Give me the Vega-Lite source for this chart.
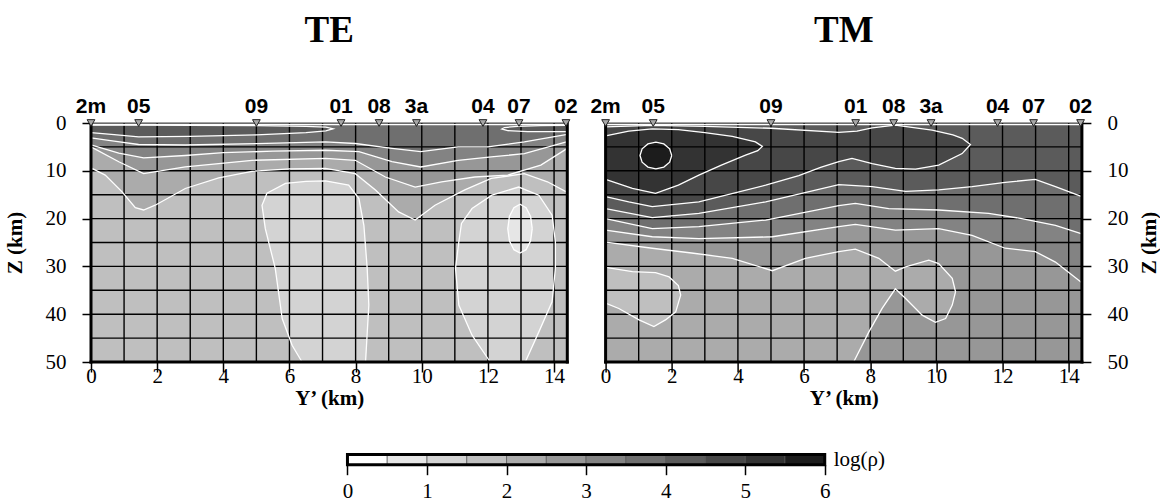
{
"$schema":"https://vega.github.io/schema/vega-lite/v6.json",
"background":"white",
"padding":{"left":4,"top":12,"right":0,"bottom":0},
"autosize":{"type":"pad"},
"config":{
 "view":{"stroke":null},
 "font":"Liberation Serif",
 "axis":{"labelFont":"Liberation Serif","labelFontSize":21,"labelColor":"black","titleFont":"Liberation Serif","titleFontSize":21,"titleFontWeight":"bold","titleColor":"black","domainColor":"black","tickColor":"black","tickWidth":1.5,"labelOverlap":false,"labelFlush":false,"labelBound":false,"grid":false},
 "title":{"font":"Liberation Serif","fontSize":37,"fontWeight":"bold","color":"black"}
},
"datasets":{
"st":[{"n":"2m","x":0},{"n":"05","x":1.44},{"n":"09","x":5.0},{"n":"01","x":7.56},{"n":"08","x":8.71},{"n":"3a","x":9.84},{"n":"04","x":11.85},{"n":"07","x":12.94},{"n":"02","x":14.36}],
"gx":[{"g":1},{"g":2},{"g":3},{"g":4},{"g":5},{"g":6},{"g":7},{"g":8},{"g":9},{"g":10},{"g":11},{"g":12},{"g":13},{"g":14}],
"gz":[{"g":5},{"g":10},{"g":15},{"g":20},{"g":25},{"g":30},{"g":35},{"g":40},{"g":45}],
"fx":[{"g":0},{"g":14.4}],
"fb":[{"g":50}],
"ft":[{"g":0}],
"cb":[{"lo":0,"hi":0.5,"lvl":0.25},{"lo":0.5,"hi":1,"lvl":0.75},{"lo":1,"hi":1.5,"lvl":1.25},{"lo":1.5,"hi":2,"lvl":1.75},{"lo":2,"hi":2.5,"lvl":2.25},{"lo":2.5,"hi":3,"lvl":2.75},{"lo":3,"hi":3.5,"lvl":3.25},{"lo":3.5,"hi":4,"lvl":3.75},{"lo":4,"hi":4.5,"lvl":4.25},{"lo":4.5,"hi":5,"lvl":4.75},{"lo":5,"hi":5.5,"lvl":5.25},{"lo":5.5,"hi":6,"lvl":5.75}],
"te":[
{"id":"bg","i":0,"x":0,"z":50,"lvl":1.75},{"id":"bg","i":1,"x":14.4,"z":50,"lvl":1.75},
{"id":"s","i":0,"x":0,"z":0.35,"lvl":2.75},{"id":"s","i":1,"x":14.4,"z":0.35,"lvl":2.75},
{"id":"e","i":0,"x":0,"z":9.4,"lvl":2.25},{"id":"e","i":1,"x":0.43,"z":10.9,"lvl":2.25},{"id":"e","i":2,"x":0.94,"z":14.4,"lvl":2.25},{"id":"e","i":3,"x":1.34,"z":17.7,"lvl":2.25},{"id":"e","i":4,"x":1.59,"z":18.2,"lvl":2.25},{"id":"e","i":5,"x":1.94,"z":17.2,"lvl":2.25},{"id":"e","i":6,"x":2.85,"z":13.7,"lvl":2.25},{"id":"e","i":7,"x":3.86,"z":11.5,"lvl":2.25},{"id":"e","i":8,"x":4.87,"z":10.1,"lvl":2.25},{"id":"e","i":9,"x":6.0,"z":9.6,"lvl":2.25},{"id":"e","i":10,"x":7.09,"z":9.5,"lvl":2.25},{"id":"e","i":11,"x":7.99,"z":10.6,"lvl":2.25},{"id":"e","i":12,"x":8.6,"z":14.0,"lvl":2.25},{"id":"e","i":13,"x":9.3,"z":18.6,"lvl":2.25},{"id":"e","i":14,"x":9.8,"z":20.3,"lvl":2.25},{"id":"e","i":15,"x":10.4,"z":17.2,"lvl":2.25},{"id":"e","i":16,"x":11.3,"z":14.0,"lvl":2.25},{"id":"e","i":17,"x":12.1,"z":11.6,"lvl":2.25},{"id":"e","i":18,"x":13.1,"z":10.6,"lvl":2.25},{"id":"e","i":19,"x":13.8,"z":12.3,"lvl":2.25},{"id":"e","i":20,"x":14.4,"z":14.5,"lvl":2.25},
{"id":"d","i":0,"x":0,"z":5.0,"lvl":2.75},{"id":"d","i":1,"x":0.84,"z":8.1,"lvl":2.75},{"id":"d","i":2,"x":1.59,"z":10.6,"lvl":2.75},{"id":"d","i":3,"x":2.85,"z":9.2,"lvl":2.75},{"id":"d","i":4,"x":4.87,"z":7.8,"lvl":2.75},{"id":"d","i":5,"x":7.09,"z":7.4,"lvl":2.75},{"id":"d","i":6,"x":7.99,"z":7.8,"lvl":2.75},{"id":"d","i":7,"x":8.9,"z":11.3,"lvl":2.75},{"id":"d","i":8,"x":9.8,"z":13.4,"lvl":2.75},{"id":"d","i":9,"x":10.6,"z":12.3,"lvl":2.75},{"id":"d","i":10,"x":11.6,"z":11.3,"lvl":2.75},{"id":"d","i":11,"x":12.6,"z":10.9,"lvl":2.75},{"id":"d","i":12,"x":13.6,"z":8.8,"lvl":2.75},{"id":"d","i":13,"x":14.4,"z":5.3,"lvl":2.75},
{"id":"c","i":0,"x":0,"z":4.6,"lvl":3.25},{"id":"c","i":1,"x":0.84,"z":6.3,"lvl":3.25},{"id":"c","i":2,"x":1.59,"z":7.3,"lvl":3.25},{"id":"c","i":3,"x":2.85,"z":6.8,"lvl":3.25},{"id":"c","i":4,"x":4.0,"z":6.2,"lvl":3.25},{"id":"c","i":5,"x":5.5,"z":5.9,"lvl":3.25},{"id":"c","i":6,"x":7.09,"z":5.7,"lvl":3.25},{"id":"c","i":7,"x":8.1,"z":6.0,"lvl":3.25},{"id":"c","i":8,"x":9.1,"z":8.1,"lvl":3.25},{"id":"c","i":9,"x":9.97,"z":9.2,"lvl":3.25},{"id":"c","i":10,"x":11.1,"z":7.8,"lvl":3.25},{"id":"c","i":11,"x":12.1,"z":7.1,"lvl":3.25},{"id":"c","i":12,"x":13.1,"z":6.4,"lvl":3.25},{"id":"c","i":13,"x":14.4,"z":3.9,"lvl":3.25},
{"id":"b","i":0,"x":0,"z":3.1,"lvl":3.75},{"id":"b","i":1,"x":0.7,"z":3.8,"lvl":3.75},{"id":"b","i":2,"x":1.44,"z":4.5,"lvl":3.75},{"id":"b","i":3,"x":2.85,"z":4.6,"lvl":3.75},{"id":"b","i":4,"x":5.0,"z":4.3,"lvl":3.75},{"id":"b","i":5,"x":7.09,"z":3.94,"lvl":3.75},{"id":"b","i":6,"x":7.99,"z":4.29,"lvl":3.75},{"id":"b","i":7,"x":9.1,"z":5.3,"lvl":3.75},{"id":"b","i":8,"x":9.97,"z":6.0,"lvl":3.75},{"id":"b","i":9,"x":11.1,"z":5.0,"lvl":3.75},{"id":"b","i":10,"x":12.0,"z":5.0,"lvl":3.75},{"id":"b","i":11,"x":13.1,"z":3.94,"lvl":3.75},{"id":"b","i":12,"x":14.4,"z":2.4,"lvl":3.75},
{"id":"L","i":0,"x":0,"z":0.45,"lvl":4.25},{"id":"L","i":1,"x":1.44,"z":0.45,"lvl":4.25},{"id":"L","i":2,"x":3.0,"z":0.5,"lvl":4.25},{"id":"L","i":3,"x":5.0,"z":0.55,"lvl":4.25},{"id":"L","i":4,"x":6.5,"z":0.7,"lvl":4.25},{"id":"L","i":5,"x":7.1,"z":0.85,"lvl":4.25},{"id":"L","i":6,"x":7.32,"z":1.2,"lvl":4.25},{"id":"L","i":7,"x":7.1,"z":1.65,"lvl":4.25},{"id":"L","i":8,"x":6.5,"z":2.0,"lvl":4.25},{"id":"L","i":9,"x":5.0,"z":2.5,"lvl":4.25},{"id":"L","i":10,"x":3.0,"z":2.8,"lvl":4.25},{"id":"L","i":11,"x":1.44,"z":2.9,"lvl":4.25},{"id":"L","i":12,"x":0.7,"z":2.45,"lvl":4.25},{"id":"L","i":13,"x":0,"z":2.0,"lvl":4.25},
{"id":"R","i":0,"x":14.4,"z":0.5,"lvl":4.25},{"id":"R","i":1,"x":13.6,"z":0.55,"lvl":4.25},{"id":"R","i":2,"x":12.9,"z":0.7,"lvl":4.25},{"id":"R","i":3,"x":12.5,"z":0.95,"lvl":4.25},{"id":"R","i":4,"x":12.42,"z":1.25,"lvl":4.25},{"id":"R","i":5,"x":12.6,"z":1.6,"lvl":4.25},{"id":"R","i":6,"x":13.2,"z":1.8,"lvl":4.25},{"id":"R","i":7,"x":14.4,"z":1.8,"lvl":4.25},
{"id":"C1","i":0,"x":6.38,"z":50,"lvl":1.25},{"id":"C1","i":1,"x":6.08,"z":46.5,"lvl":1.25},{"id":"C1","i":2,"x":5.78,"z":40.9,"lvl":1.25},{"id":"C1","i":3,"x":5.57,"z":30.4,"lvl":1.25},{"id":"C1","i":4,"x":5.27,"z":22.1,"lvl":1.25},{"id":"C1","i":5,"x":5.17,"z":17.2,"lvl":1.25},{"id":"C1","i":6,"x":5.32,"z":14.7,"lvl":1.25},{"id":"C1","i":7,"x":5.88,"z":12.65,"lvl":1.25},{"id":"C1","i":8,"x":6.5,"z":12.2,"lvl":1.25},{"id":"C1","i":9,"x":7.09,"z":12.1,"lvl":1.25},{"id":"C1","i":10,"x":7.79,"z":13.0,"lvl":1.25},{"id":"C1","i":11,"x":8.1,"z":15.8,"lvl":1.25},{"id":"C1","i":12,"x":8.25,"z":21.4,"lvl":1.25},{"id":"C1","i":13,"x":8.35,"z":30.4,"lvl":1.25},{"id":"C1","i":14,"x":8.4,"z":38.1,"lvl":1.25},{"id":"C1","i":15,"x":8.3,"z":50,"lvl":1.25},
{"id":"C2","i":0,"x":12.07,"z":50,"lvl":1.25},{"id":"C2","i":1,"x":11.52,"z":44.4,"lvl":1.25},{"id":"C2","i":2,"x":11.12,"z":38.1,"lvl":1.25},{"id":"C2","i":3,"x":11.02,"z":30.4,"lvl":1.25},{"id":"C2","i":4,"x":11.12,"z":24.9,"lvl":1.25},{"id":"C2","i":5,"x":11.2,"z":21.0,"lvl":1.25},{"id":"C2","i":6,"x":11.52,"z":17.9,"lvl":1.25},{"id":"C2","i":7,"x":12.12,"z":15.1,"lvl":1.25},{"id":"C2","i":8,"x":12.93,"z":13.4,"lvl":1.25},{"id":"C2","i":9,"x":13.54,"z":15.1,"lvl":1.25},{"id":"C2","i":10,"x":13.94,"z":19.3,"lvl":1.25},{"id":"C2","i":11,"x":14.04,"z":24.9,"lvl":1.25},{"id":"C2","i":12,"x":14.04,"z":30.4,"lvl":1.25},{"id":"C2","i":13,"x":13.94,"z":37.4,"lvl":1.25},{"id":"C2","i":14,"x":13.54,"z":43.7,"lvl":1.25},{"id":"C2","i":15,"x":13.13,"z":50,"lvl":1.25},
{"id":"C3","i":0,"x":13.34,"z":22.1,"lvl":0.75},{"id":"C3","i":1,"x":13.29,"z":24.65,"lvl":0.75},{"id":"C3","i":2,"x":13.155,"z":26.5,"lvl":0.75},{"id":"C3","i":3,"x":12.97,"z":27.2,"lvl":0.75},{"id":"C3","i":4,"x":12.785,"z":26.5,"lvl":0.75},{"id":"C3","i":5,"x":12.65,"z":24.65,"lvl":0.75},{"id":"C3","i":6,"x":12.6,"z":22.1,"lvl":0.75},{"id":"C3","i":7,"x":12.65,"z":19.55,"lvl":0.75},{"id":"C3","i":8,"x":12.785,"z":17.7,"lvl":0.75},{"id":"C3","i":9,"x":12.97,"z":17.0,"lvl":0.75},{"id":"C3","i":10,"x":13.155,"z":17.7,"lvl":0.75},{"id":"C3","i":11,"x":13.29,"z":19.55,"lvl":0.75},{"id":"C3","i":12,"x":13.34,"z":22.1,"lvl":0.75}
],
"tm":[
{"id":"bg","i":0,"x":0,"z":50,"lvl":2.75},{"id":"bg","i":1,"x":14.4,"z":50,"lvl":2.75},
{"id":"s","i":0,"x":0,"z":0.35,"lvl":2.75},{"id":"s","i":1,"x":14.4,"z":0.35,"lvl":2.75},
{"id":"P7","i":0,"x":0,"z":24.9,"lvl":2.25},{"id":"P7","i":1,"x":1.41,"z":26.2,"lvl":2.25},{"id":"P7","i":2,"x":2.6,"z":27.2,"lvl":2.25},{"id":"P7","i":3,"x":3.83,"z":28.3,"lvl":2.25},{"id":"P7","i":4,"x":5.04,"z":30.9,"lvl":2.25},{"id":"P7","i":5,"x":6.04,"z":28.3,"lvl":2.25},{"id":"P7","i":6,"x":7.05,"z":26.9,"lvl":2.25},{"id":"P7","i":7,"x":7.55,"z":26.4,"lvl":2.25},{"id":"P7","i":8,"x":8.26,"z":28.3,"lvl":2.25},{"id":"P7","i":9,"x":8.76,"z":31.0,"lvl":2.25},{"id":"P7","i":10,"x":9.07,"z":30.1,"lvl":2.25},{"id":"P7","i":11,"x":9.77,"z":28.7,"lvl":2.25},{"id":"P7","i":12,"x":10.07,"z":29.4,"lvl":2.25},{"id":"P7","i":13,"x":10.48,"z":32.5,"lvl":2.25},{"id":"P7","i":14,"x":10.58,"z":35.3,"lvl":2.25},{"id":"P7","i":15,"x":10.48,"z":38.1,"lvl":2.25},{"id":"P7","i":16,"x":10.28,"z":40.9,"lvl":2.25},{"id":"P7","i":17,"x":9.97,"z":41.7,"lvl":2.25},{"id":"P7","i":18,"x":9.57,"z":40.2,"lvl":2.25},{"id":"P7","i":19,"x":9.07,"z":36.7,"lvl":2.25},{"id":"P7","i":20,"x":8.76,"z":34.7,"lvl":2.25},{"id":"P7","i":21,"x":8.36,"z":38.8,"lvl":2.25},{"id":"P7","i":22,"x":7.96,"z":43.7,"lvl":2.25},{"id":"P7","i":23,"x":7.5,"z":50,"lvl":2.25},{"id":"P7","i":24,"x":0,"z":50,"lvl":2.25,"e":1},
{"id":"R8","i":0,"x":0,"z":30.2,"lvl":1.75},{"id":"R8","i":1,"x":0.81,"z":31.1,"lvl":1.75},{"id":"R8","i":2,"x":1.51,"z":31.3,"lvl":1.75},{"id":"R8","i":3,"x":1.92,"z":32.2,"lvl":1.75},{"id":"R8","i":4,"x":2.2,"z":34.0,"lvl":1.75},{"id":"R8","i":5,"x":2.27,"z":36.0,"lvl":1.75},{"id":"R8","i":6,"x":2.12,"z":39.5,"lvl":1.75},{"id":"R8","i":7,"x":1.81,"z":41.2,"lvl":1.75},{"id":"R8","i":8,"x":1.46,"z":42.6,"lvl":1.75},{"id":"R8","i":9,"x":1.01,"z":41.2,"lvl":1.75},{"id":"R8","i":10,"x":0.4,"z":38.8,"lvl":1.75},{"id":"R8","i":11,"x":0,"z":37.7,"lvl":1.75},
{"id":"l6","i":0,"x":0,"z":22.4,"lvl":3.25},{"id":"l6","i":1,"x":1.41,"z":23.8,"lvl":3.25},{"id":"l6","i":2,"x":2.82,"z":24.2,"lvl":3.25},{"id":"l6","i":3,"x":5.04,"z":23.8,"lvl":3.25},{"id":"l6","i":4,"x":7.05,"z":21.7,"lvl":3.25},{"id":"l6","i":5,"x":7.55,"z":21.2,"lvl":3.25},{"id":"l6","i":6,"x":8.76,"z":22.4,"lvl":3.25},{"id":"l6","i":7,"x":10.07,"z":22.1,"lvl":3.25},{"id":"l6","i":8,"x":11.08,"z":23.5,"lvl":3.25},{"id":"l6","i":9,"x":12.08,"z":26.2,"lvl":3.25},{"id":"l6","i":10,"x":12.99,"z":26.9,"lvl":3.25},{"id":"l6","i":11,"x":13.6,"z":29.1,"lvl":3.25},{"id":"l6","i":12,"x":14.4,"z":33.4,"lvl":3.25},
{"id":"l5","i":0,"x":0,"z":20.0,"lvl":3.75},{"id":"l5","i":1,"x":1.41,"z":22.1,"lvl":3.75},{"id":"l5","i":2,"x":2.82,"z":21.7,"lvl":3.75},{"id":"l5","i":3,"x":4.84,"z":20.3,"lvl":3.75},{"id":"l5","i":4,"x":7.05,"z":17.3,"lvl":3.75},{"id":"l5","i":5,"x":7.55,"z":16.8,"lvl":3.75},{"id":"l5","i":6,"x":8.56,"z":17.9,"lvl":3.75},{"id":"l5","i":7,"x":10.07,"z":18.2,"lvl":3.75},{"id":"l5","i":8,"x":11.58,"z":18.9,"lvl":3.75},{"id":"l5","i":9,"x":12.58,"z":20.0,"lvl":3.75},{"id":"l5","i":10,"x":13.6,"z":21.4,"lvl":3.75},{"id":"l5","i":11,"x":14.4,"z":23.2,"lvl":3.75},
{"id":"l4","i":0,"x":0,"z":17.9,"lvl":4.25},{"id":"l4","i":1,"x":1.41,"z":19.8,"lvl":4.25},{"id":"l4","i":2,"x":2.82,"z":18.9,"lvl":4.25},{"id":"l4","i":3,"x":4.84,"z":16.5,"lvl":4.25},{"id":"l4","i":4,"x":7.05,"z":12.9,"lvl":4.25},{"id":"l4","i":5,"x":8.06,"z":13.3,"lvl":4.25},{"id":"l4","i":6,"x":9.07,"z":14.3,"lvl":4.25},{"id":"l4","i":7,"x":10.07,"z":14.0,"lvl":4.25},{"id":"l4","i":8,"x":11.08,"z":13.3,"lvl":4.25},{"id":"l4","i":9,"x":12.08,"z":12.4,"lvl":4.25},{"id":"l4","i":10,"x":12.99,"z":11.8,"lvl":4.25},{"id":"l4","i":11,"x":13.6,"z":13.3,"lvl":4.25},{"id":"l4","i":12,"x":14.4,"z":15.4,"lvl":4.25},
{"id":"B","i":0,"x":0,"z":0.8,"lvl":4.75},{"id":"B","i":1,"x":1.41,"z":0.5,"lvl":4.75},{"id":"B","i":2,"x":3.0,"z":0.7,"lvl":4.75},{"id":"B","i":3,"x":5.0,"z":1.1,"lvl":4.75},{"id":"B","i":4,"x":7.05,"z":1.95,"lvl":4.75},{"id":"B","i":5,"x":7.6,"z":1.7,"lvl":4.75},{"id":"B","i":6,"x":8.06,"z":1.0,"lvl":4.75},{"id":"B","i":7,"x":8.76,"z":0.45,"lvl":4.75},{"id":"B","i":8,"x":9.87,"z":1.5,"lvl":4.75},{"id":"B","i":9,"x":10.5,"z":2.5,"lvl":4.75},{"id":"B","i":10,"x":10.78,"z":3.2,"lvl":4.75},{"id":"B","i":11,"x":11.03,"z":4.5,"lvl":4.75},{"id":"B","i":12,"x":10.78,"z":6.4,"lvl":4.75},{"id":"B","i":13,"x":10.07,"z":8.8,"lvl":4.75},{"id":"B","i":14,"x":9.37,"z":9.65,"lvl":4.75},{"id":"B","i":15,"x":8.76,"z":9.5,"lvl":4.75},{"id":"B","i":16,"x":8.06,"z":8.5,"lvl":4.75},{"id":"B","i":17,"x":7.45,"z":7.4,"lvl":4.75},{"id":"B","i":18,"x":7.05,"z":8.1,"lvl":4.75},{"id":"B","i":19,"x":6.5,"z":9.3,"lvl":4.75},{"id":"B","i":20,"x":5.84,"z":11.0,"lvl":4.75},{"id":"B","i":21,"x":4.84,"z":13.0,"lvl":4.75},{"id":"B","i":22,"x":2.82,"z":16.5,"lvl":4.75},{"id":"B","i":23,"x":1.41,"z":17.5,"lvl":4.75},{"id":"B","i":24,"x":0.7,"z":16.5,"lvl":4.75},{"id":"B","i":25,"x":0,"z":15.4,"lvl":4.75},
{"id":"R2","i":0,"x":0,"z":2.7,"lvl":5.25},{"id":"R2","i":1,"x":0.7,"z":1.7,"lvl":5.25},{"id":"R2","i":2,"x":1.41,"z":1.25,"lvl":5.25},{"id":"R2","i":3,"x":2.2,"z":1.4,"lvl":5.25},{"id":"R2","i":4,"x":3.0,"z":2.0,"lvl":5.25},{"id":"R2","i":5,"x":3.83,"z":2.8,"lvl":5.25},{"id":"R2","i":6,"x":4.53,"z":3.94,"lvl":5.25},{"id":"R2","i":7,"x":4.74,"z":4.9,"lvl":5.25},{"id":"R2","i":8,"x":4.6,"z":5.8,"lvl":5.25},{"id":"R2","i":9,"x":4.23,"z":6.73,"lvl":5.25},{"id":"R2","i":10,"x":3.5,"z":8.8,"lvl":5.25},{"id":"R2","i":11,"x":2.82,"z":10.9,"lvl":5.25},{"id":"R2","i":12,"x":2.2,"z":13.0,"lvl":5.25},{"id":"R2","i":13,"x":1.51,"z":14.7,"lvl":5.25},{"id":"R2","i":14,"x":0.81,"z":13.7,"lvl":5.25},{"id":"R2","i":15,"x":0,"z":11.8,"lvl":5.25},
{"id":"T","i":0,"x":2.0,"z":6.8,"lvl":5.75},{"id":"T","i":1,"x":1.936,"z":8.2,"lvl":5.75},{"id":"T","i":2,"x":1.76,"z":9.22,"lvl":5.75},{"id":"T","i":3,"x":1.52,"z":9.6,"lvl":5.75},{"id":"T","i":4,"x":1.28,"z":9.22,"lvl":5.75},{"id":"T","i":5,"x":1.104,"z":8.2,"lvl":5.75},{"id":"T","i":6,"x":1.04,"z":6.8,"lvl":5.75},{"id":"T","i":7,"x":1.104,"z":5.4,"lvl":5.75},{"id":"T","i":8,"x":1.28,"z":4.38,"lvl":5.75},{"id":"T","i":9,"x":1.52,"z":4.0,"lvl":5.75},{"id":"T","i":10,"x":1.76,"z":4.38,"lvl":5.75},{"id":"T","i":11,"x":1.936,"z":5.4,"lvl":5.75},{"id":"T","i":12,"x":2.0,"z":6.8,"lvl":5.75}
]
},
"vconcat":[
{"hconcat":[
{
 "width":476.3,"height":239,
 "title":{"text":"TE","frame":"group","anchor":"middle","offset":45.5},
 "data":{"name":"te"},
 "layer":[
  {"encoding":{
    "x":{"field":"x","type":"quantitative","scale":{"domain":[0,14.4],"nice":false,"zero":false}},
    "y":{"field":"z","type":"quantitative","scale":{"domain":[0,50],"reverse":true,"nice":false,"zero":false}},
    "fill":{"field":"lvl","type":"quantitative","scale":{"type":"threshold","domain":[0.5,1,1.5,2,2.5,3,3.5,4,4.5,5,5.5],"range":["#ffffff","#e6e6e6","#d3d3d3","#bfbfbf","#ababab","#979797","#838383","#6f6f6f","#5b5b5b","#474747","#333333","#1c1c1c"]},"legend":null}},
   "layer":[
    {"transform":[{"filter":"datum.id==='bg'"}],"mark":{"type":"area"},"encoding":{"y2":{"datum":0},
      "x":{"field":"x","type":"quantitative","axis":{"orient":"bottom","values":[0,2,4,6,8,10,12,14],"format":"d","title":"Y’ (km)","tickSize":10,"labelPadding":-7,"titlePadding":1,"domain":false}},
      "y":{"field":"z","type":"quantitative","axis":{"orient":"left","values":[0,10,20,30,40,50],"format":"d","title":"Z (km)","tickSize":9,"labelPadding":16,"titlePadding":20,"domain":false}}}},
    {"transform":[{"filter":"datum.id==='e'"}],"mark":{"type":"area"},"encoding":{"y2":{"datum":0}}},
    {"transform":[{"filter":"datum.id==='d'"}],"mark":{"type":"area"},"encoding":{"y2":{"datum":0}}},
    {"transform":[{"filter":"datum.id==='c'"}],"mark":{"type":"area"},"encoding":{"y2":{"datum":0}}},
    {"transform":[{"filter":"datum.id==='b'"}],"mark":{"type":"area"},"encoding":{"y2":{"datum":0}}},
    {"transform":[{"filter":"datum.id==='L'"}],"mark":{"type":"line","strokeWidth":0},"encoding":{"order":{"field":"i","type":"quantitative"}}},
    {"transform":[{"filter":"datum.id==='R'"}],"mark":{"type":"line","strokeWidth":0},"encoding":{"order":{"field":"i","type":"quantitative"}}},
    {"transform":[{"filter":"datum.id==='s'"}],"mark":{"type":"area"},"encoding":{"y2":{"datum":0}}},
    {"transform":[{"filter":"datum.id==='C1'"}],"mark":{"type":"line","strokeWidth":0},"encoding":{"order":{"field":"i","type":"quantitative"}}},
    {"transform":[{"filter":"datum.id==='C2'"}],"mark":{"type":"line","strokeWidth":0},"encoding":{"order":{"field":"i","type":"quantitative"}}},
    {"transform":[{"filter":"datum.id==='C3'"}],"mark":{"type":"line","strokeWidth":0},"encoding":{"order":{"field":"i","type":"quantitative"}}}
   ]},
  {"data":{"name":"gx"},"mark":{"type":"rule","color":"black","strokeWidth":1.4},"encoding":{"x":{"field":"g","type":"quantitative"},"y":{"datum":0,"type":"quantitative"},"y2":{"datum":50}}},
  {"data":{"name":"gz"},"mark":{"type":"rule","color":"black","strokeWidth":1.4},"encoding":{"y":{"field":"g","type":"quantitative"},"x":{"datum":0,"type":"quantitative"},"x2":{"datum":14.4}}},
  {"transform":[{"filter":"datum.id!=='bg' && !datum.e"}],"mark":{"type":"line","stroke":"white","strokeWidth":1.3},"encoding":{"x":{"field":"x","type":"quantitative"},"y":{"field":"z","type":"quantitative"},"detail":{"field":"id"},"order":{"field":"i","type":"quantitative"}}},
  {"data":{"name":"fx"},"mark":{"type":"rule","color":"black","strokeWidth":3,"strokeCap":"square"},"encoding":{"x":{"field":"g","type":"quantitative"},"y":{"datum":0,"type":"quantitative"},"y2":{"datum":50}}},
  {"data":{"name":"fb"},"mark":{"type":"rule","color":"black","strokeWidth":3,"strokeCap":"square"},"encoding":{"y":{"field":"g","type":"quantitative"},"x":{"datum":0,"type":"quantitative"},"x2":{"datum":14.4}}},
  {"data":{"name":"ft"},"mark":{"type":"rule","color":"#444444","strokeWidth":1},"encoding":{"y":{"field":"g","type":"quantitative"},"x":{"datum":0,"type":"quantitative"},"x2":{"datum":14.4}}},
  {"data":{"name":"st"},"mark":{"type":"point","shape":"triangle-down","size":60,"filled":true,"fill":"#a8a8a8","stroke":"#222222","strokeWidth":1,"opacity":1},"encoding":{"x":{"field":"x","type":"quantitative"},"y":{"datum":0,"type":"quantitative"}}},
  {"data":{"name":"st"},"mark":{"type":"text","font":"Liberation Sans","fontWeight":"bold","fontSize":21,"dy":-10.5,"baseline":"alphabetic","align":"center","color":"black"},"encoding":{"x":{"field":"x","type":"quantitative"},"y":{"datum":0,"type":"quantitative"},"text":{"field":"n"}}}
 ]
},
{
 "width":476.3,"height":239,
 "title":{"text":"TM","frame":"group","anchor":"middle","offset":45.5},
 "data":{"name":"tm"},
 "layer":[
  {"encoding":{
    "x":{"field":"x","type":"quantitative","scale":{"domain":[0,14.4],"nice":false,"zero":false}},
    "y":{"field":"z","type":"quantitative","scale":{"domain":[0,50],"reverse":true,"nice":false,"zero":false}},
    "fill":{"field":"lvl","type":"quantitative","scale":{"type":"threshold","domain":[0.5,1,1.5,2,2.5,3,3.5,4,4.5,5,5.5],"range":["#ffffff","#e6e6e6","#d3d3d3","#bfbfbf","#ababab","#979797","#838383","#6f6f6f","#5b5b5b","#474747","#333333","#1c1c1c"]},"legend":null}},
   "layer":[
    {"transform":[{"filter":"datum.id==='bg'"}],"mark":{"type":"area"},"encoding":{"y2":{"datum":0},
      "x":{"field":"x","type":"quantitative","axis":{"orient":"bottom","values":[0,2,4,6,8,10,12,14],"format":"d","title":"Y’ (km)","tickSize":10,"labelPadding":-7,"titlePadding":1,"domain":false}},
      "y":{"field":"z","type":"quantitative","axis":{"orient":"right","values":[0,10,20,30,40,50],"format":"d","title":"Z (km)","tickSize":9,"labelPadding":16,"titlePadding":10.5,"titleAngle":270,"titleBaseline":"top","domain":false}}}},
    {"transform":[{"filter":"datum.id==='P7'"}],"mark":{"type":"line","strokeWidth":0},"encoding":{"order":{"field":"i","type":"quantitative"}}},
    {"transform":[{"filter":"datum.id==='R8'"}],"mark":{"type":"line","strokeWidth":0},"encoding":{"order":{"field":"i","type":"quantitative"}}},
    {"transform":[{"filter":"datum.id==='l6'"}],"mark":{"type":"area"},"encoding":{"y2":{"datum":0}}},
    {"transform":[{"filter":"datum.id==='l5'"}],"mark":{"type":"area"},"encoding":{"y2":{"datum":0}}},
    {"transform":[{"filter":"datum.id==='l4'"}],"mark":{"type":"area"},"encoding":{"y2":{"datum":0}}},
    {"transform":[{"filter":"datum.id==='B'"}],"mark":{"type":"line","strokeWidth":0},"encoding":{"order":{"field":"i","type":"quantitative"}}},
    {"transform":[{"filter":"datum.id==='R2'"}],"mark":{"type":"line","strokeWidth":0},"encoding":{"order":{"field":"i","type":"quantitative"}}},
    {"transform":[{"filter":"datum.id==='T'"}],"mark":{"type":"line","strokeWidth":0},"encoding":{"order":{"field":"i","type":"quantitative"}}},
    {"transform":[{"filter":"datum.id==='s'"}],"mark":{"type":"area"},"encoding":{"y2":{"datum":0}}}
   ]},
  {"data":{"name":"gx"},"mark":{"type":"rule","color":"black","strokeWidth":1.4},"encoding":{"x":{"field":"g","type":"quantitative"},"y":{"datum":0,"type":"quantitative"},"y2":{"datum":50}}},
  {"data":{"name":"gz"},"mark":{"type":"rule","color":"black","strokeWidth":1.4},"encoding":{"y":{"field":"g","type":"quantitative"},"x":{"datum":0,"type":"quantitative"},"x2":{"datum":14.4}}},
  {"transform":[{"filter":"datum.id!=='bg' && !datum.e"}],"mark":{"type":"line","stroke":"white","strokeWidth":1.3},"encoding":{"x":{"field":"x","type":"quantitative"},"y":{"field":"z","type":"quantitative"},"detail":{"field":"id"},"order":{"field":"i","type":"quantitative"}}},
  {"data":{"name":"fx"},"mark":{"type":"rule","color":"black","strokeWidth":3,"strokeCap":"square"},"encoding":{"x":{"field":"g","type":"quantitative"},"y":{"datum":0,"type":"quantitative"},"y2":{"datum":50}}},
  {"data":{"name":"fb"},"mark":{"type":"rule","color":"black","strokeWidth":3,"strokeCap":"square"},"encoding":{"y":{"field":"g","type":"quantitative"},"x":{"datum":0,"type":"quantitative"},"x2":{"datum":14.4}}},
  {"data":{"name":"ft"},"mark":{"type":"rule","color":"#444444","strokeWidth":1},"encoding":{"y":{"field":"g","type":"quantitative"},"x":{"datum":0,"type":"quantitative"},"x2":{"datum":14.4}}},
  {"data":{"name":"st"},"mark":{"type":"point","shape":"triangle-down","size":60,"filled":true,"fill":"#a8a8a8","stroke":"#222222","strokeWidth":1,"opacity":1},"encoding":{"x":{"field":"x","type":"quantitative"},"y":{"datum":0,"type":"quantitative"}}},
  {"data":{"name":"st"},"mark":{"type":"text","font":"Liberation Sans","fontWeight":"bold","fontSize":21,"dy":-10.5,"baseline":"alphabetic","align":"center","color":"black"},"encoding":{"x":{"field":"x","type":"quantitative"},"y":{"datum":0,"type":"quantitative"},"text":{"field":"n"}}}
 ]
}
],"spacing":37.6,"bounds":"flush"},
{
 "width":989.6,"height":10.3,
 "data":{"name":"cb"},
 "layer":[
  {"mark":{"type":"rect","stroke":"#555555","strokeWidth":0.7},
   "encoding":{"x":{"field":"lo","type":"quantitative","scale":{"domain":[-3.224,9.2165],"nice":false,"zero":false},"axis":{"orient":"bottom","values":[0,1,2,3,4,5,6],"format":"d","title":null,"domain":false,"tickSize":10,"labelPadding":6}},"x2":{"field":"hi"},
    "fill":{"field":"lvl","type":"quantitative","scale":{"type":"threshold","domain":[0.5,1,1.5,2,2.5,3,3.5,4,4.5,5,5.5],"range":["#ffffff","#e6e6e6","#d3d3d3","#bfbfbf","#ababab","#979797","#838383","#6f6f6f","#5b5b5b","#474747","#333333","#1c1c1c"]},"legend":null}}},
  {"data":{"values":[{"k":1}]},"mark":{"type":"rect","fill":"transparent","stroke":"black","strokeWidth":3},"encoding":{"x":{"datum":0,"type":"quantitative"},"x2":{"datum":6}}},
  {"data":{"values":[{"k":1}]},"mark":{"type":"text","text":"log(ρ)","align":"left","baseline":"middle","dx":9,"font":"Liberation Serif","fontSize":21,"color":"black"},"encoding":{"x":{"datum":6,"type":"quantitative"}}}
 ]
}
],
"spacing":40.4
}
